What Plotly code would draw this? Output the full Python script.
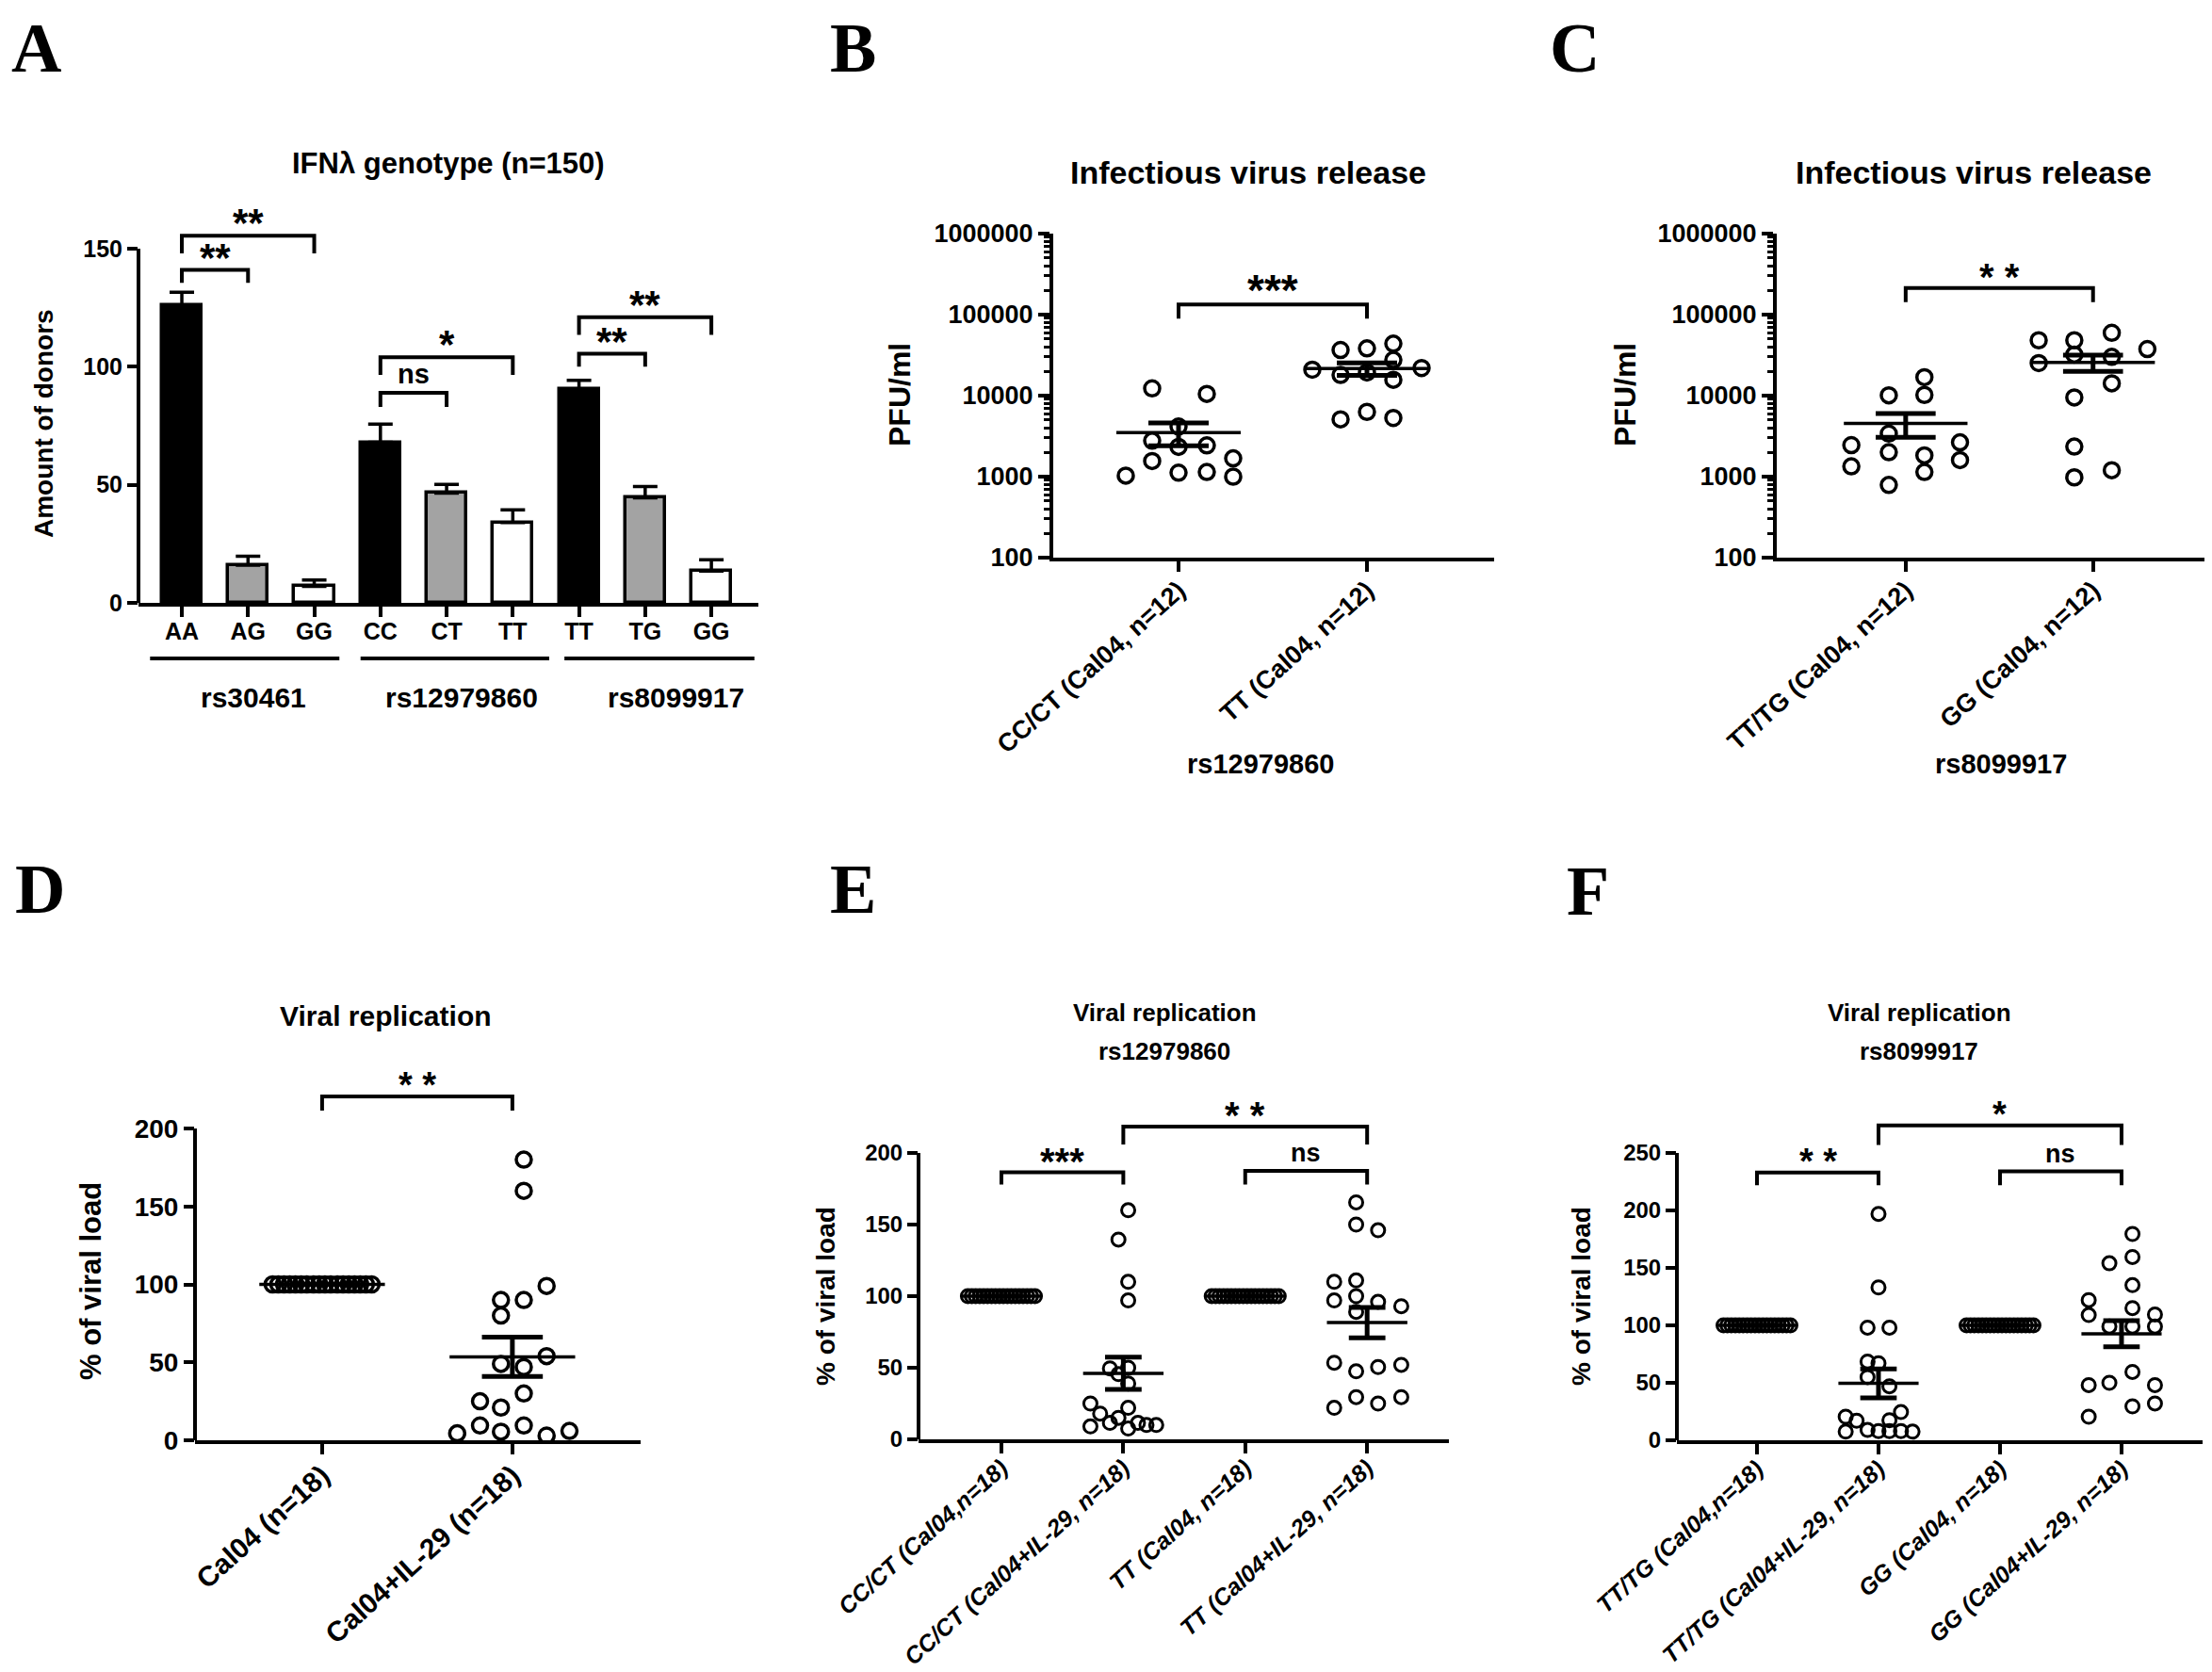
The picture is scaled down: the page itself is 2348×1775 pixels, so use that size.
import numpy as np
import plotly.graph_objects as go

W, H = 2348, 1775
SANS = "Liberation Sans, Arial, sans-serif"
SERIF = "Liberation Serif, Times New Roman, serif"

# ---------------- values ----------------
# A: donors per IFN-lambda genotype (n=150), bar height and upper error
a_genotypes = ["AA", "AG", "GG", "CC", "CT", "TT", "TT", "TG", "GG"]
a_donors = [126, 16, 7, 68, 46.5, 34, 90.5, 44.5, 13.5]
a_err = [5.5, 3.7, 2.7, 7.7, 3.7, 5.4, 3.7, 4.8, 4.8]
a_snps = ["rs30461", "rs12979860", "rs8099917"]
# (left group, right group, bracket top, leg foot, label)
a_sig = [(0, 2, 155.5, 148, "**"), (0, 1, 141, 135.5, "**"),
         (3, 5, 104, 96.5, "*"), (3, 4, 89, 83, "ns"),
         (6, 8, 121, 113.5, "**"), (6, 7, 105.5, 100, "**")]

# B: infectious virus release (PFU/ml), rs12979860; dx = horizontal spread of each dot
b_groups = ["CC/CT (Cal04, n=12)", "TT (Cal04, n=12)"]
b_cc_dx = [-0.14, 0.15, 0.0, -0.14, 0.15, 0.0, -0.14, 0.29, -0.28, 0.0, 0.15, 0.29]
b_cc = [12300, 10500, 4150, 2780, 2430, 2330, 1560, 1680, 1030, 1120, 1140, 1000]
b_tt_dx = [-0.14, 0.0, 0.14, 0.14, -0.29, 0.29, -0.14, 0.0, 0.14, -0.14, 0.0, 0.14]
b_tt = [36600, 38300, 43800, 27600, 20900, 21900, 18000, 19300, 15700, 5100, 6300, 5300]
b_sig = [(0, 1, 133000, 89000, "***")]

# C: infectious virus release (PFU/ml), rs8099917
c_groups = ["TT/TG (Cal04, n=12)", "GG (Cal04, n=12)"]
c_tg_dx = [0.10, -0.09, 0.10, -0.09, -0.29, 0.29, -0.09, 0.10, 0.29, -0.29, 0.10, -0.09]
c_tg = [16900, 10100, 10200, 3400, 2450, 2650, 2000, 1830, 1600, 1340, 1140, 790]
c_gg_dx = [0.10, -0.29, -0.10, 0.29, -0.10, 0.10, -0.29, 0.10, -0.10, -0.10, 0.10, -0.10]
c_gg = [59700, 48200, 48200, 37600, 32100, 30100, 25200, 14200, 9500, 2350, 1200, 980]
c_sig = [(0, 1, 213000, 142600, "* *")]

# D: viral replication (% of viral load)
d_groups = ["Cal04 (n=18)", "Cal04+IL-29 (n=18)"]
d_cal_dx = [-0.26, -0.23, -0.20, -0.17, -0.14, -0.11, -0.08, -0.045, -0.015,
            0.015, 0.045, 0.08, 0.11, 0.14, 0.17, 0.20, 0.23, 0.26]
d_cal = [100, 100, 100, 100, 100, 100, 100, 100, 100,
         100, 100, 100, 100, 100, 100, 100, 100, 100]
d_il_dx = [0.06, 0.06, 0.18, -0.06, 0.06, -0.06, 0.18, -0.06, 0.06,
           0.06, -0.17, -0.06, -0.17, 0.06, -0.29, -0.06, 0.18, 0.30]
d_il = [180, 160, 99, 90, 90, 80, 54, 49, 47, 30, 25, 21, 9.5, 9.5, 4.5, 5.5, 3, 6]
d_sig = [(0, 1, 220.5, 211.5, "* *")]

# E: viral replication by rs12979860
e_groups = ["CC/CT (Cal04,n=18)", "CC/CT (Cal04+IL-29, n=18)",
            "TT (Cal04, n=18)", "TT (Cal04+IL-29, n=18)"]
row_dx = [-0.275, -0.243, -0.211, -0.178, -0.146, -0.114, -0.081, -0.049, -0.016,
          0.016, 0.049, 0.081, 0.114, 0.146, 0.178, 0.211, 0.243, 0.275]
e_cc_cal = [100, 100, 100, 100, 100, 100, 100, 100, 100,
            100, 100, 100, 100, 100, 100, 100, 100, 100]
e_cc_il_dx = [0.04, -0.04, 0.04, 0.04, -0.11, 0.04, -0.04, 0.04, -0.27,
              0.04, -0.19, -0.04, -0.27, -0.11, 0.04, 0.12, 0.19, 0.27]
e_cc_il = [160, 139.5, 110, 97, 49.5, 50, 45.5, 39, 25, 22, 18, 15, 9, 11.5, 7.5, 11.5, 10, 10]
e_tt_cal = [100, 100, 100, 100, 100, 100, 100, 100, 100,
            100, 100, 100, 100, 100, 100, 100, 100, 100]
e_tt_il_dx = [-0.09, -0.09, 0.09, -0.27, -0.09, -0.27, -0.09, 0.09, 0.28,
              -0.09, -0.27, -0.09, 0.09, 0.28, -0.27, -0.09, 0.09, 0.28]
e_tt_il = [165.5, 150, 146, 110, 111, 97, 100, 96, 93, 89, 53.5, 47.5, 50.5, 52, 22, 29.5, 25, 29.5]
e_sig = [(0, 1, 186.5, 178, "***"), (1, 3, 218.5, 206, "* *"), (2, 3, 187.5, 178, "ns")]

# F: viral replication by rs8099917
f_groups = ["TT/TG (Cal04,n=18)", "TT/TG (Cal04+IL-29, n=18)",
            "GG (Cal04, n=18)", "GG (Cal04+IL-29, n=18)"]
f_tg_cal = [100, 100, 100, 100, 100, 100, 100, 100, 100,
            100, 100, 100, 100, 100, 100, 100, 100, 100]
f_tg_il_dx = [0.0, 0.0, -0.09, 0.09, -0.09, 0.0, -0.09, 0.09, -0.27,
              -0.18, 0.185, 0.09, -0.27, -0.09, 0.0, 0.09, 0.185, 0.28]
f_tg_il = [197, 133, 98, 98, 68.5, 67, 55, 47, 20.5, 17, 24.5, 17.5, 7.5, 9, 8, 8, 8, 7.5]
f_gg_cal = [100, 100, 100, 100, 100, 100, 100, 100, 100,
            100, 100, 100, 100, 100, 100, 100, 100, 100]
f_gg_il_dx = [0.09, -0.10, 0.09, 0.09, -0.27, -0.27, 0.09, 0.275, -0.10,
              0.09, 0.275, 0.09, -0.27, -0.10, 0.275, 0.09, 0.275, -0.27]
f_gg_il = [179.5, 154, 159.5, 135, 122, 109, 115, 109.5, 99, 99, 99, 59.5, 48, 50, 48, 29.5, 32, 20.5]
f_sig = [(0, 1, 233, 222, "* *"), (1, 3, 274, 257, "*"), (2, 3, 234, 222, "ns")]

# ---------------- helpers ----------------
fig = go.Figure()

AXIS = dict(showline=True, linewidth=4, linecolor="black", ticks="outside", ticklen=11,
            tickwidth=3.5, tickcolor="black", showgrid=False, zeroline=False, fixedrange=True)


def ids(n):
    s = "" if n == 1 else str(n)
    return "x" + s, "y" + s, "xaxis" + s, "yaxis" + s


def font(size, italic=False, family=SANS):
    return dict(family=family, size=size, color="black", weight="bold",
                style="italic" if italic else "normal")


def text(label, x, y, size, angle=0, family=SANS, yanchor="middle"):
    # x, y in pixels of the 2348x1775 page
    fig.add_annotation(text=label, x=x / W, y=1 - y / H, xref="paper", yref="paper",
                       xanchor="center", yanchor=yanchor,
                       showarrow=False, textangle=angle, font=font(size, family=family))


def axes(n, x_px, x_rng, labels, xsize, angle, y_px, yvals, ytext, ysize,
         log=False, italic=False, top_val=None, zero_px=None, top_px=None, standoff=-8):
    xid, yid, xa, ya = ids(n)
    fig.layout[xa] = dict(domain=[x_px[0] / W, x_px[1] / W], range=x_rng, anchor=yid,
                          tickmode="array", tickvals=list(range(len(labels))), ticktext=labels,
                          tickangle=angle, tickfont=font(xsize, italic), automargin=False,
                          ticklabelstandoff=standoff, **AXIS)
    yd = dict(AXIS, domain=[1 - y_px[0] / H, 1 - y_px[1] / H], anchor=xid, tickmode="array",
              tickvals=yvals, ticktext=ytext, tickfont=font(ysize), automargin=False)
    if log:
        yd.update(type="log", range=[2, 6], ticklen=12,
                  minor=dict(tickmode="array", ticks="outside", ticklen=6, tickwidth=2.5,
                             tickcolor="black", showgrid=False,
                             tickvals=[k * 10 ** e for e in range(2, 6) for k in range(2, 10)]))
    else:
        top = top_val * (zero_px - y_px[1]) / (zero_px - top_px)
        yd.update(range=[0, top], showline=False)
        fig.add_shape(type="line", xref=xid + " domain", yref=yid + " domain", x0=0, x1=0,
                      y0=0, y1=top_val / top, line=dict(color="black", width=4))
    fig.layout[ya] = yd


def dots(n, dxs, vals, size, lw, half_mean, half_cap, mean_w, sem_w):
    xid, yid, _, _ = ids(n)
    for i, (dx, v) in enumerate(zip(dxs, vals)):
        fig.add_trace(go.Scatter(x=[i + d for d in dx], y=v, mode="markers", xaxis=xid, yaxis=yid,
                                 marker=dict(symbol="circle-open", size=size, color="black",
                                             line=dict(width=lw, color="black")),
                                 hoverinfo="skip", showlegend=False))
    mx, my, sx, sy = [], [], [], []
    for i, v in enumerate(vals):
        v = np.asarray(v, float)
        m = v.mean()
        s = v.std(ddof=1) / np.sqrt(len(v))
        mx += [i - half_mean, i + half_mean, None]
        my += [m, m, None]
        sx += [i - half_cap, i + half_cap, None, i, i, None, i - half_cap, i + half_cap, None]
        sy += [m + s, m + s, None, m + s, m - s, None, m - s, m - s, None]
    fig.add_trace(go.Scatter(x=mx, y=my, mode="lines", xaxis=xid, yaxis=yid,
                             line=dict(color="black", width=mean_w), hoverinfo="skip", showlegend=False))
    fig.add_trace(go.Scatter(x=sx, y=sy, mode="lines", xaxis=xid, yaxis=yid,
                             line=dict(color="black", width=sem_w), hoverinfo="skip", showlegend=False))


def brackets(n, sig, star_size, ns_size, log=False):
    xid, yid, _, _ = ids(n)
    bx, by = [], []
    for i, j, top, foot, lab in sig:
        bx += [i, i, j, j, None]
        by += [foot, top, top, foot, None]
        star = "*" in lab
        fig.add_annotation(x=(i + j) / 2, y=np.log10(top) if log else top, xref=xid, yref=yid,
                           text=lab, showarrow=False, xanchor="center", yanchor="bottom",
                           yshift=-int(star_size * 0.3) if star else 2,
                           font=font(star_size if star else ns_size))
    fig.add_trace(go.Scatter(x=bx, y=by, mode="lines", xaxis=xid, yaxis=yid,
                             line=dict(color="black", width=4), hoverinfo="skip", showlegend=False))


# ---------------- A ----------------
axes(1, (139, 797), [-0.655, 8.71], a_genotypes, 25, 0, (632, 200),
     [0, 50, 100, 150], ["0", "50", "100", "150"], 25, top_val=150, zero_px=632, top_px=256,
     standoff=-6)
fig.add_trace(go.Bar(x=list(range(len(a_donors))), y=a_donors, width=0.6, xaxis="x", yaxis="y",
                     marker=dict(color=["black", "#a3a3a3", "white"] * 3,
                                 line=dict(color="black", width=3.5)),
                     error_y=dict(type="data", array=a_err, arrayminus=[0] * len(a_err),
                                  symmetric=False, color="black", thickness=3.5, width=13),
                     hoverinfo="skip", showlegend=False))
brackets(1, a_sig, 42, 29)
a_spans = [(-0.48, 2.38, 1.08), (2.70, 5.55, 4.23), (5.78, 8.65, 7.46)]
for name, (s0, s1, c) in zip(a_snps, a_spans):
    fig.add_shape(type="line", xref="x", yref="paper", x0=s0, x1=s1,
                  y0=1 - 691 / H, y1=1 - 691 / H, line=dict(color="black", width=4))
    fig.add_annotation(text=name, x=c, y=1 - 732 / H, xref="x", yref="paper",
                       xanchor="center", yanchor="middle", showarrow=False, font=font(30))

# ---------------- B, C ----------------
log_vals = [100, 1000, 10000, 100000, 1000000]
log_text = ["100", "1000", "10000", "100000", "1000000"]
axes(2, (1110, 1578), [-0.665, 1.675], b_groups, 27, -42, (584, 240), log_vals, log_text, 27,
     log=True, standoff=-7)
dots(2, [b_cc_dx, b_tt_dx], [b_cc, b_tt], 16, 3.5, 0.33, 0.16, 3.5, 5)
brackets(2, b_sig, 46, 28, log=True)

axes(3, (1878, 2345), [-0.688, 1.66], c_groups, 27, -42, (584, 240), log_vals, log_text, 27,
     log=True, standoff=-7)
dots(3, [c_tg_dx, c_gg_dx], [c_tg, c_gg], 16, 3.5, 0.33, 0.16, 3.5, 5)
brackets(3, c_sig, 40, 28, log=True)

# ---------------- D, E, F ----------------
axes(4, (199, 672), [-0.668, 1.674], d_groups, 30, -42, (1521, 1130),
     [0, 50, 100, 150, 200], ["0", "50", "100", "150", "200"], 28,
     top_val=200, zero_px=1521, top_px=1190, standoff=-7)
dots(4, [d_cal_dx, d_il_dx], [d_cal, d_il], 16, 3.5, 0.33, 0.16, 3.5, 5)
brackets(4, d_sig, 38, 28)

axes(5, (967, 1530), [-0.68, 3.671], e_groups, 25, -42, (1520, 1150),
     [0, 50, 100, 150, 200], ["0", "50", "100", "150", "200"], 24, italic=True,
     top_val=200, zero_px=1520, top_px=1216, standoff=-9)
dots(5, [row_dx, e_cc_il_dx, row_dx, e_tt_il_dx], [e_cc_cal, e_cc_il, e_tt_cal, e_tt_il],
     14, 3, 0.33, 0.15, 3.5, 5)
brackets(5, e_sig, 40, 27)

axes(6, (1772, 2330), [-0.659, 3.667], f_groups, 25, -42, (1521, 1150),
     [0, 50, 100, 150, 200, 250], ["0", "50", "100", "150", "200", "250"], 24, italic=True,
     top_val=250, zero_px=1521, top_px=1216, standoff=-9)
dots(6, [row_dx, f_tg_il_dx, row_dx, f_gg_il_dx], [f_tg_cal, f_tg_il, f_gg_cal, f_gg_il],
     14, 3, 0.33, 0.15, 3.5, 5)
brackets(6, f_sig, 38, 27)

# ---------------- text ----------------
for letter, x, y in [("A", 30, 0), ("B", 897, 0), ("C", 1663, 0),
                     ("D", 34, 893), ("E", 897, 893), ("F", 1678, 895)]:
    text(letter, x, y, 74, family=SERIF, yanchor="top")

text("IFNλ genotype (n=150)", 468, 166, 31)
text("Infectious virus release", 1317, 175, 34)
text("Infectious virus release", 2087, 175, 34)
text("Viral replication", 401, 1070, 30)
text("Viral replication", 1228, 1067, 26)
text("rs12979860", 1228, 1108, 26)
text("Viral replication", 2029, 1067, 26)
text("rs8099917", 2029, 1108, 26)

text("Amount of donors", 38, 442, 28, angle=-90)
text("PFU/ml", 947, 411, 32, angle=-90)
text("PFU/ml", 1717, 411, 32, angle=-90)
text("% of viral load", 88, 1352, 31, angle=-90)
text("% of viral load", 868, 1368, 28, angle=-90)
text("% of viral load", 1670, 1368, 28, angle=-90)
text("rs12979860", 1330, 803, 29)
text("rs8099917", 2116, 803, 29)

fig.update_layout(width=W, height=H,
                  margin=dict(l=0, r=0, t=0, b=0, pad=0, autoexpand=False),
                  paper_bgcolor="white", plot_bgcolor="white",
                  showlegend=False, hovermode=False, bargap=0)
fig.write_html("out.html")
